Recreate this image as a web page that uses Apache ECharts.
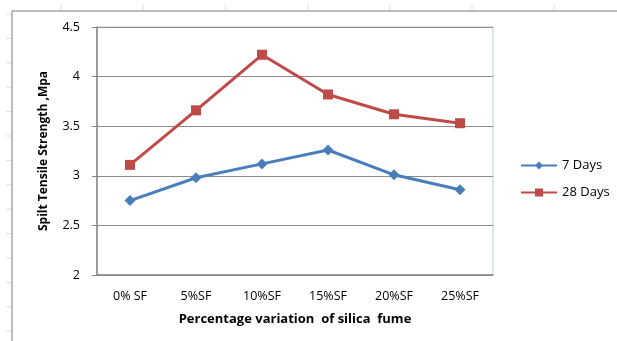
<!DOCTYPE html>
<html>
<head>
<meta charset="utf-8">
<script src="https://cdn.jsdelivr.net/npm/echarts@6/dist/echarts.min.js"></script>
<style>
  html, body { margin: 0; padding: 0; background: #ffffff; }
  #chart { width: 617px; height: 341px; }
</style>
</head>
<body>
<div id="chart"></div>
<script>
// Silica fume dosage levels
const categories = ['0% SF', '5%SF', '10%SF', '15%SF', '20%SF', '25%SF'];
// Split tensile strength (MPa) at each curing age
const days7 = [2.75, 2.98, 3.12, 3.26, 3.01, 2.86];
const days28 = [3.11, 3.66, 4.22, 3.82, 3.62, 3.53];
const seriesNames = ['7 Days', '28 Days'];

const FONT = '"Open Sans", Lato, sans-serif';

// Worksheet frame and faint row/column markers around the chart object
const frame = [];
frame.push({ type: 'line', shape: { x1: 12, y1: 11, x2: 617, y2: 11 }, style: { stroke: '#a6a6a6', lineWidth: 1.5 }, z: 10 });
frame.push({ type: 'line', shape: { x1: 12, y1: 11, x2: 12, y2: 341 }, style: { stroke: '#a6a6a6', lineWidth: 1.5 }, z: 10 });
for (let i = 0; i < 7; i++) {
  const x = 61 + i * 82.2;
  frame.push({ type: 'line', shape: { x1: x, y1: 5, x2: x, y2: 10 }, style: { stroke: '#dcdcdc', lineWidth: 1 } });
}
for (let i = 0; i < 14; i++) {
  const y = 14 + i * 24.4;
  frame.push({ type: 'line', shape: { x1: 6, y1: y, x2: 11, y2: y }, style: { stroke: '#dcdcdc', lineWidth: 1 } });
}

const chart = echarts.init(document.getElementById('chart'), null, { renderer: 'canvas' });
chart.setOption({
  backgroundColor: '#ffffff',
  animation: false,
  textStyle: { fontFamily: FONT },
  graphic: frame,
  grid: {
    left: 97, right: 124, top: 27, bottom: 66,
    show: true, borderColor: '#b9cde5', borderWidth: 1
  },
  legend: {
    orient: 'vertical',
    left: 515, top: 154,
    itemWidth: 36, itemHeight: 10, itemGap: 14,
    textStyle: { fontFamily: FONT, fontSize: 13, color: '#000' },
    data: seriesNames
  },
  xAxis: {
    type: 'category',
    data: categories,
    boundaryGap: true,
    axisLine: { lineStyle: { color: '#868686', width: 1.5 } },
    axisTick: { show: false },
    axisLabel: { color: '#000', fontSize: 12.5, fontFamily: FONT, margin: 15 },
    name: 'Percentage variation  of silica  fume',
    nameLocation: 'middle',
    nameGap: 38,
    nameTextStyle: { fontFamily: FONT, fontSize: 13, fontWeight: 'bold', color: '#000' }
  },
  yAxis: {
    type: 'value',
    min: 2, max: 4.5, interval: 0.5,
    axisLine: { show: true, lineStyle: { color: '#868686', width: 1.5 } },
    axisTick: { show: true, length: 5, lineStyle: { color: '#868686' } },
    splitLine: { lineStyle: { color: '#8c8c8c', width: 1.2 } },
    axisLabel: { color: '#000', fontSize: 12.5, fontFamily: FONT, margin: 17 },
    name: 'Spilt Tensile Strength ,Mpa',
    nameLocation: 'middle',
    nameRotate: 90,
    nameGap: 47,
    nameTextStyle: { fontFamily: FONT, fontSize: 12, fontWeight: 'bold', color: '#000' }
  },
  series: [
    {
      name: seriesNames[0],
      type: 'line',
      data: days7,
      symbol: 'diamond',
      symbolSize: 11,
      lineStyle: { color: '#4a7ebb', width: 3 },
      itemStyle: { color: '#4a7ebb' }
    },
    {
      name: seriesNames[1],
      type: 'line',
      data: days28,
      symbol: 'rect',
      symbolSize: 10,
      lineStyle: { color: '#be4b48', width: 3 },
      itemStyle: { color: '#be4b48' }
    }
  ]
});
</script>
</body>
</html>
